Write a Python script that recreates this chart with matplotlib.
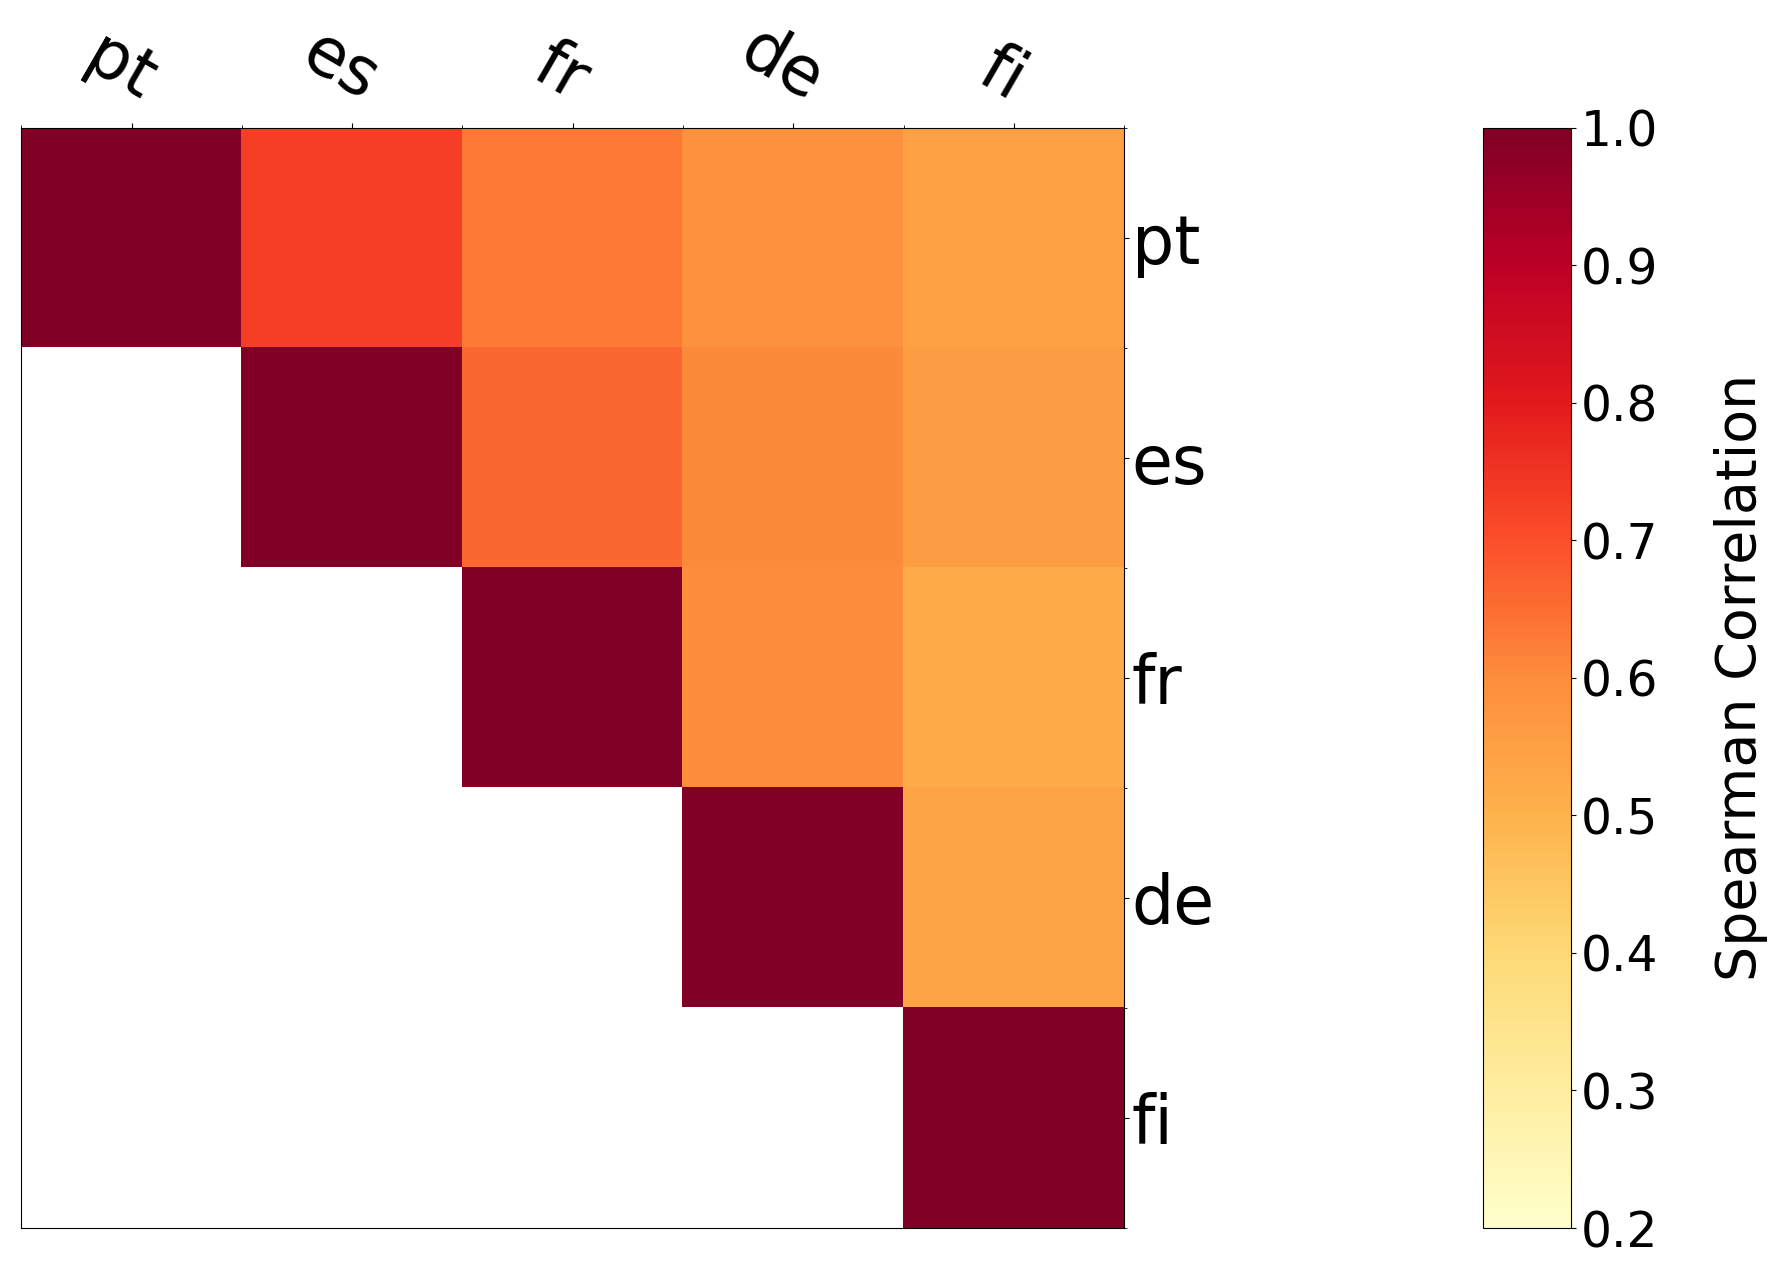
import numpy as np
import matplotlib
matplotlib.use("Agg")
import matplotlib.pyplot as plt
import matplotlib.transforms as mtransforms

langs = ["pt", "es", "fr", "de", "fi"]
# upper-triangle Spearman correlations (row, col)
row_pt = [1.00, 0.73, 0.63, 0.59, 0.545]
row_es = [np.nan, 1.00, 0.66, 0.605, 0.555]
row_fr = [np.nan, np.nan, 1.00, 0.60, 0.515]
row_de = [np.nan, np.nan, np.nan, 1.00, 0.535]
row_fi = [np.nan, np.nan, np.nan, np.nan, 1.00]
cbar_ticks = [0.2, 0.3, 0.4, 0.5, 0.6, 0.7, 0.8, 0.9, 1.0]

corr = np.array([row_pt, row_es, row_fr, row_de, row_fi])

fig = plt.figure(figsize=(17.71, 12.63), dpi=100)
ax = fig.add_axes([0.0121, 0.0277, 0.6226, 0.8713])
cax = fig.add_axes([0.8374, 0.0277, 0.0497, 0.8713])

im = ax.imshow(corr, cmap="YlOrRd", vmin=0.2, vmax=1.0, aspect="auto")

n = len(langs)
ax.xaxis.tick_top()
ax.yaxis.tick_right()
ax.set_xticks(np.arange(n))
ax.set_yticks(np.arange(n))
ax.set_xticks(np.arange(n + 1) - 0.5, minor=True)
ax.set_yticks(np.arange(n + 1) - 0.5, minor=True)
ax.set_xticklabels(langs, fontsize=48, rotation=-30, ha="center")
ax.set_yticklabels(langs, fontsize=48)
ax.tick_params(axis="x", which="both", top=True, bottom=False, pad=6)
ax.tick_params(axis="y", which="both", right=True, left=False, pad=2)

# nudge top labels a little to the left, as in the original
shift = mtransforms.ScaledTranslation(-0.12, 0, fig.dpi_scale_trans)
for lab in ax.get_xticklabels():
    lab.set_transform(lab.get_transform() + shift)

cb = fig.colorbar(im, cax=cax, ticks=cbar_ticks)
cb.ax.tick_params(labelsize=35)
cb.set_label("Spearman Correlation", fontsize=40, labelpad=40)

fig.savefig("out.png", dpi=100)
